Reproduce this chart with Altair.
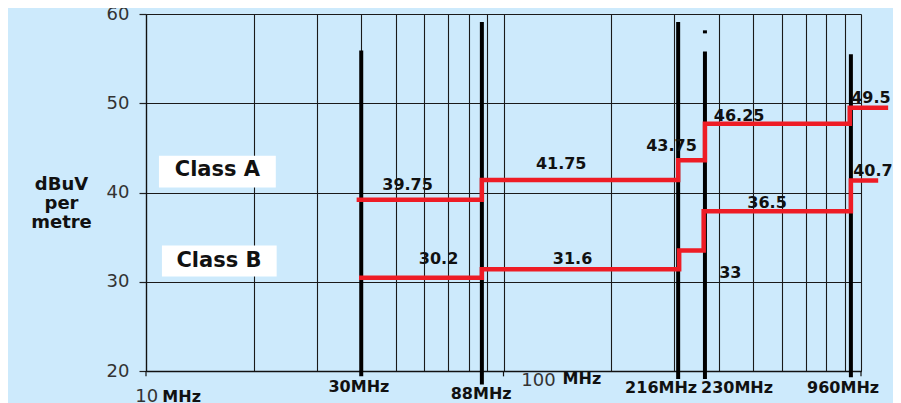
import altair as alt
import pandas as pd

# ---- data (frequency in MHz, level in dBuV per metre) ----
class_a_freq = [39.4, 87, 308, 366, 930, 1174]
class_a_level = [39.2, 41.4, 43.6, 47.7, 49.5, 49.5]
class_b_freq = [40, 87, 310, 363, 937, 1101]
class_b_level = [30.45, 31.4, 33.5, 37.9, 41.35, 41.35]

band_names = ["30MHz", "88MHz", "216MHz", "230MHz", "960MHz"]
band_freq = [40, 87, 308, 366, 937]
band_top = [55.9, 59.1, 59.1, 55.8, 55.5]
band_bottom = [19.4, 18.5, 19.1, 19.1, 19.3]
band_label_freq = [39.4, 86.6, 276, 450, 891]
band_label_level = [18.23, 17.4, 18.07, 18.07, 18.07]

value_labels = ["39.75", "41.75", "43.75", "46.25", "49.5", "40.7", "36.5", "33", "30.2", "31.6"]
value_label_freq = [53.9, 145, 295, 456, 1066, 1080, 546, 431, 65.8, 156]
value_label_level = [40.8, 43.2, 45.25, 48.6, 50.6, 42.45, 38.85, 31.0, 32.5, 32.5]

class_names = ["Class A", "Class B"]
class_box_f1 = [10.87, 11.08]
class_box_f2 = [23.07, 23.2]
class_box_l1 = [40.55, 30.6]
class_box_l2 = [44.13, 34.06]
class_label_freq = [15.84, 16.0]
class_label_level = [42.5, 32.3]

decade_numbers = ["10", "100"]
decade_number_freq = [10.05, 125.2]
decade_number_level = [17.1, 18.9]
decade_unit = ["MHz", "MHz"]
decade_unit_freq = [12.58, 165.7]
decade_unit_level = [17.1, 19.07]

decade_ticks = [10, 100, 1000]
grid_freqs = [10, 20, 30, 40, 50, 60, 70, 80, 90, 100, 200, 300, 400, 500, 600, 700, 800, 900, 1000]
y_ticks = [20, 30, 40, 50, 60]

# ---- tables ----
lines_df = pd.DataFrame({
    "f": class_a_freq + class_b_freq,
    "v": class_a_level + class_b_level,
    "cls": ["A"] * len(class_a_freq) + ["B"] * len(class_b_freq),
})
bands_df = pd.DataFrame({"f": band_freq, "v": band_top, "v2": band_bottom})
band_lab_df = pd.DataFrame({"f": band_label_freq, "v": band_label_level, "t": band_names})
val_df = pd.DataFrame({"f": value_label_freq, "v": value_label_level, "t": value_labels})
box_df = pd.DataFrame({"f": class_box_f1, "f2": class_box_f2, "v": class_box_l1, "v2": class_box_l2})
cls_df = pd.DataFrame({"f": class_label_freq, "v": class_label_level, "t": class_names})
dnum_df = pd.DataFrame({"f": decade_number_freq, "v": decade_number_level, "t": decade_numbers})
dunit_df = pd.DataFrame({"f": decade_unit_freq, "v": decade_unit_level, "t": decade_unit})
dtick_df = pd.DataFrame({"f": decade_ticks, "v": [20] * 3, "v2": [19.4] * 3})
dash_df = pd.DataFrame({"f": [366], "v": [58.17], "v2": [57.83]})

xscale = alt.Scale(type="log", domain=[10, 1000], nice=False)
yscale = alt.Scale(domain=[20, 60], nice=False, zero=False)

xaxis = alt.Axis(values=grid_freqs, labels=False, ticks=False, grid=True,
                 gridColor="#1a1a1a", gridOpacity=1, gridWidth=1.1,
                 domainColor="#111111", domainWidth=1.3, title=None)
yaxis = alt.Axis(values=y_ticks, grid=True, gridColor="#1a1a1a", gridOpacity=1, gridWidth=1.1,
                 domainColor="#111111", domainWidth=1.3,
                 tickColor="#222222", tickSize=7, tickWidth=1.2,
                 labelFont="DejaVu Sans", labelFontSize=18, labelColor="#333333", labelPadding=10,
                 title=["dBuV", "per", "metre"], titleAngle=0, titleFont="DejaVu Sans",
                 titleFontSize=18, titleFontWeight="bold", titleColor="#111111",
                 titleAlign="center", titleBaseline="top", titleX=-85, titleY=161,
                 titleLineHeight=19)

X = alt.X("f:Q", scale=xscale, axis=xaxis)
Y = alt.Y("v:Q", scale=yscale, axis=yaxis)

axes_layer = alt.Chart(bands_df).mark_rule(strokeWidth=4, color="black").encode(
    x=X, y=Y, y2="v2:Q")

boxes = alt.Chart(box_df).mark_rect(color="white").encode(
    x=alt.X("f:Q", scale=xscale), x2="f2:Q",
    y=alt.Y("v:Q", scale=yscale), y2="v2:Q")

ticks = alt.Chart(dtick_df).mark_rule(strokeWidth=1.2, color="#111111").encode(
    x=alt.X("f:Q", scale=xscale), y=alt.Y("v:Q", scale=yscale), y2="v2:Q")

dash = alt.Chart(dash_df).mark_rule(strokeWidth=4, color="black").encode(
    x=alt.X("f:Q", scale=xscale), y=alt.Y("v:Q", scale=yscale), y2="v2:Q")

lines = alt.Chart(lines_df).mark_line(interpolate="step-after", strokeWidth=4.5,
                                      color="#ee1c25", strokeCap="square").encode(
    x=alt.X("f:Q", scale=xscale), y=alt.Y("v:Q", scale=yscale), detail="cls:N")

txt_kw = dict(font="DejaVu Sans", fontWeight="bold", color="#111111", align="center", baseline="middle")

val_text = alt.Chart(val_df).mark_text(fontSize=16, **txt_kw).encode(
    x=alt.X("f:Q", scale=xscale), y=alt.Y("v:Q", scale=yscale), text="t:N")
band_text = alt.Chart(band_lab_df).mark_text(fontSize=16, **txt_kw).encode(
    x=alt.X("f:Q", scale=xscale), y=alt.Y("v:Q", scale=yscale), text="t:N")
cls_text = alt.Chart(cls_df).mark_text(fontSize=21, **txt_kw).encode(
    x=alt.X("f:Q", scale=xscale), y=alt.Y("v:Q", scale=yscale), text="t:N")
dnum_text = alt.Chart(dnum_df).mark_text(fontSize=18, font="DejaVu Sans", color="#333333",
                                        align="center", baseline="middle").encode(
    x=alt.X("f:Q", scale=xscale), y=alt.Y("v:Q", scale=yscale), text="t:N")
dunit_text = alt.Chart(dunit_df).mark_text(fontSize=16, **txt_kw).encode(
    x=alt.X("f:Q", scale=xscale), y=alt.Y("v:Q", scale=yscale), text="t:N")

chart = alt.layer(
    axes_layer, boxes, ticks, dash, lines, val_text, band_text, cls_text, dnum_text, dunit_text
).properties(
    width=715, height=357,
    autosize=alt.AutoSizeParams(type="none"),
    padding={"left": 138, "top": 6, "right": 32, "bottom": 32},
    background="#cdeafc",
).configure_view(stroke=None)

chart.save("out.html", embed_options={"renderer": "svg", "actions": False})
